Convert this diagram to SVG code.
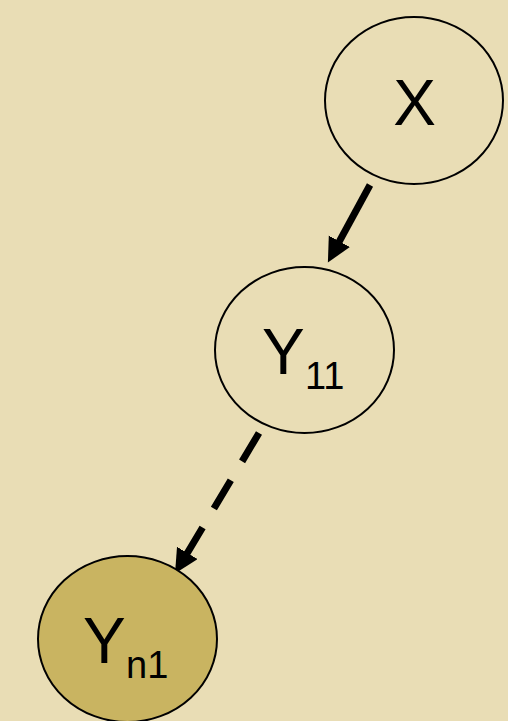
<svg xmlns="http://www.w3.org/2000/svg" width="508" height="721" viewBox="0 0 508 721">
  <style>
    .node { stroke: #000; stroke-width: 2; }
    .plain { fill: #E9DDB5; }
    .observed { fill: #C9B461; }
    .label { font-family: "Liberation Sans", Arial, sans-serif; font-size: 64px; fill: #000; }
    .sub { font-size: 38px; }
    .edge { stroke: #000; stroke-width: 7; fill: none; }
    .dashed { stroke-dasharray: 33 22; }
  </style>
  <defs>
    <marker id="head" markerUnits="userSpaceOnUse" markerWidth="26" markerHeight="26" viewBox="0 0 26 26" refX="2" refY="12" orient="auto">
      <path d="M0,0 L24,12 L0,24 z" fill="#000"/>
    </marker>
  </defs>
  <rect width="508" height="721" fill="#E9DDB5"/>

  <g id="edges">
    <line class="edge" x1="370" y1="185" x2="338.4" y2="243.1" marker-end="url(#head)"/>
    <line class="edge dashed" x1="259" y1="433" x2="186.3" y2="554.7" marker-end="url(#head)"/>
  </g>

  <g id="node-x">
    <ellipse class="node plain" cx="414" cy="100.5" rx="89" ry="83.5"/>
    <text class="label" x="414.5" y="125" text-anchor="middle">X</text>
  </g>

  <g id="node-y11">
    <ellipse class="node plain" cx="304.5" cy="350" rx="89.5" ry="83"/>
    <text class="label" x="262" y="374">Y<tspan class="sub" x="305" y="389">11</tspan></text>
  </g>

  <g id="node-yn1">
    <ellipse class="node observed" cx="127.5" cy="639" rx="89.5" ry="83"/>
    <text class="label" x="83" y="663">Y<tspan class="sub" x="126" y="678">n1</tspan></text>
  </g>
</svg>
